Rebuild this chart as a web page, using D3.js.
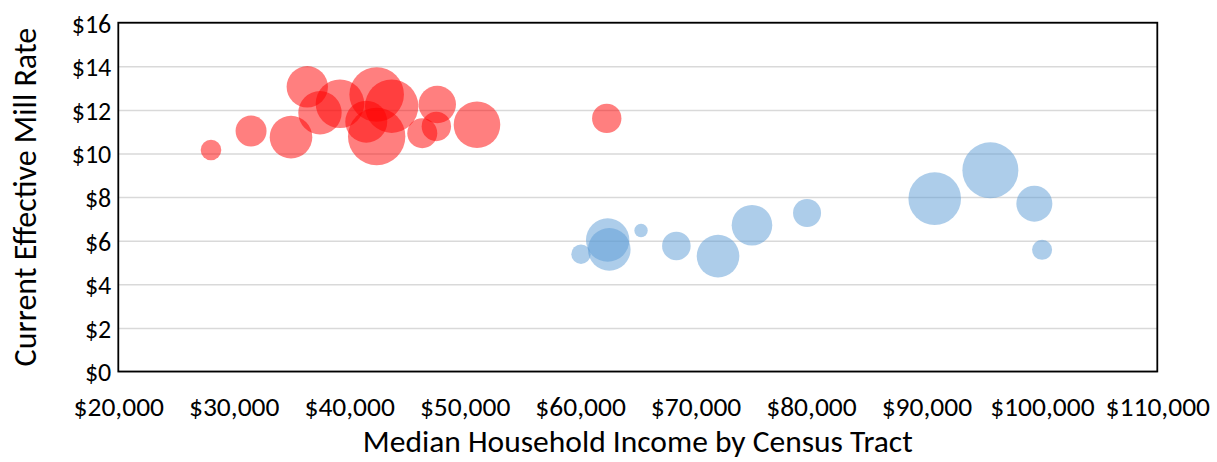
<!DOCTYPE html>
<html>
<head>
<meta charset="utf-8">
<script src="https://cdn.jsdelivr.net/npm/d3@7/dist/d3.min.js"></script>
<style>
  html, body { margin: 0; padding: 0; background: #fff; }
  svg { display: block; font-family: Carlito, Calibri, Lato, sans-serif; }
</style>
</head>
<body>
<svg id="chart" width="1217" height="462"></svg>
<script>
// Census tracts: median household income, effective mill rate, bubble size
const redIncome = [28030, 31500, 34960, 36370, 37470, 39200, 42380, 43680, 41480, 42380, 47630, 47550, 46330, 51070, 62310];
const redRate   = [10.16, 11.03, 10.75, 13.06, 11.87, 12.28, 12.71, 12.17, 11.46, 10.78, 12.25, 11.24, 10.93, 11.32, 11.61];
const redSize   = [106, 240, 454, 428, 471, 590, 745, 713, 441, 824, 350, 216, 225, 543, 216];

const blueIncome = [60080, 62390, 62530, 65280, 68340, 71950, 74890, 79660, 90720, 95540, 99350, 100020];
const blueRate   = [5.38, 6.03, 5.60, 6.47, 5.76, 5.29, 6.71, 7.27, 7.93, 9.23, 7.70, 5.58];
const blueSize   = [94, 471, 454, 45, 204, 454, 412, 196, 692, 784, 324, 100];

const xTicks = [20000, 30000, 40000, 50000, 60000, 70000, 80000, 90000, 100000, 110000];
const yTicks = [0, 2, 4, 6, 8, 10, 12, 14, 16];

const xTitle = "Median Household Income by Census Tract";
const yTitle = "Current Effective Mill Rate";

const FONT = "Carlito, Calibri, Lato, sans-serif";

const svg = d3.select("#chart");
const W = 1217, H = 462;
const m = { left: 118.3, right: 59.7, top: 22.7, bottom: 90.5 };
const pw = W - m.left - m.right, ph = H - m.top - m.bottom;

const x = d3.scaleLinear().domain([20000, 110000]).range([m.left, m.left + pw]);
const y = d3.scaleLinear().domain([0, 16]).range([m.top + ph, m.top]);
const r = d3.scaleSqrt().domain([0, d3.max(redSize.concat(blueSize))]).range([0, 28.7]);

// horizontal gridlines
const grid = svg.append("g")
  .attr("transform", `translate(${m.left},0)`)
  .call(d3.axisLeft(y).tickValues(yTicks).tickSize(-pw).tickFormat(""));
grid.select(".domain").remove();
grid.selectAll("line").attr("stroke", "#d9d9d9").attr("stroke-width", 1.5);

// bubbles
function series(inc, rate, size, color) {
  const pts = inc.map((v, i) => ({ x: v, y: rate[i], s: size[i] }));
  svg.append("g").selectAll("circle").data(pts).join("circle")
    .attr("cx", d => x(d.x))
    .attr("cy", d => y(d.y))
    .attr("r", d => r(d.s))
    .attr("fill", color)
    .attr("fill-opacity", 0.5);
}
series(redIncome, redRate, redSize, "#ff0000");
series(blueIncome, blueRate, blueSize, "#5b9bd5");

// plot frame
svg.append("rect")
  .attr("x", m.left).attr("y", m.top).attr("width", pw).attr("height", ph)
  .attr("fill", "none").attr("stroke", "#000").attr("stroke-width", 1.8);

// axes
const xAxis = svg.append("g")
  .attr("transform", `translate(0,${m.top + ph})`)
  .call(d3.axisBottom(x).tickValues(xTicks).tickSize(0).tickPadding(0).tickFormat(d3.format("$,")));
xAxis.select(".domain").remove();
xAxis.selectAll("text")
  .attr("y", 0).attr("dy", null)
  .attr("transform", "translate(0,44.5)")
  .attr("font-size", 27.5).attr("fill", "#000")
  .style("font-family", FONT);

const yAxis = svg.append("g")
  .attr("transform", `translate(${m.left},0)`)
  .call(d3.axisLeft(y).tickValues(yTicks).tickSize(0).tickPadding(7).tickFormat(d3.format("$")));
yAxis.select(".domain").remove();
yAxis.selectAll("text")
  .attr("dy", "0.36em")
  .attr("font-size", 26).attr("fill", "#000")
  .style("font-family", FONT);

// titles
svg.append("text")
  .attr("x", m.left + pw / 2).attr("y", 452)
  .attr("text-anchor", "middle")
  .attr("font-size", 31.5).attr("fill", "#000")
  .text(xTitle);

svg.append("text")
  .attr("transform", `translate(36,${m.top + ph / 2}) rotate(-90)`)
  .attr("text-anchor", "middle")
  .attr("font-size", 32).attr("fill", "#000")
  .text(yTitle);
</script>
</body>
</html>
